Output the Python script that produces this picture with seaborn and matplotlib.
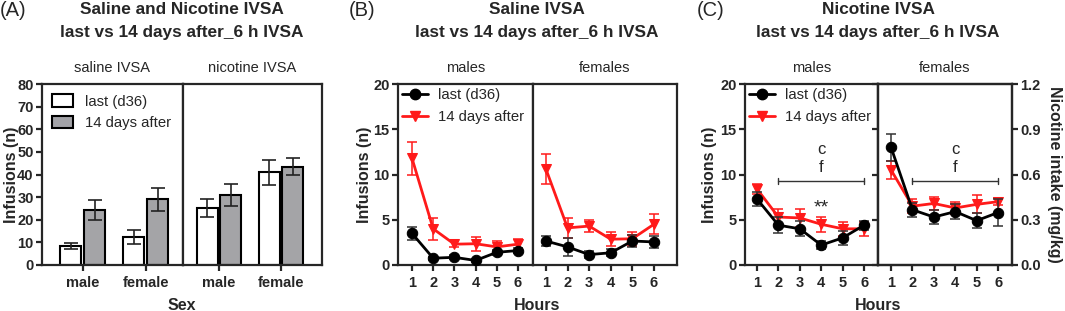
import numpy as np
import pandas as pd
import matplotlib
matplotlib.use("Agg")
import matplotlib.pyplot as plt
import seaborn as sns
from matplotlib.patches import Patch
from matplotlib.lines import Line2D

# ---------------- data ----------------
sexes = ["male", "female"]
conditions = ["last (d36)", "14 days after"]
groups_a = ["saline IVSA", "nicotine IVSA"]
a_saline_last = [8.3, 12.3]
a_saline_last_sem = [1.3, 3.2]
a_saline_14d = [24.4, 29.0]
a_saline_14d_sem = [4.3, 5.1]
a_nic_last = [25.3, 41.0]
a_nic_last_sem = [4.0, 5.5]
a_nic_14d = [31.0, 43.4]
a_nic_14d_sem = [4.8, 3.8]

hours = [1, 2, 3, 4, 5, 6]
# panel B (saline)
b_m_last = [3.5, 0.75, 0.85, 0.5, 1.4, 1.6]
b_m_last_sem = [0.7, 0.15, 0.2, 0.15, 0.3, 0.25]
b_m_14d = [11.8, 4.0, 2.3, 2.35, 2.0, 2.3]
b_m_14d_sem = [1.8, 1.2, 0.3, 0.75, 0.6, 0.6]
b_f_last = [2.65, 2.0, 1.15, 1.35, 2.65, 2.55]
b_f_last_sem = [0.55, 1.0, 0.35, 0.4, 0.7, 0.7]
b_f_14d = [10.6, 4.1, 4.3, 2.85, 2.9, 4.5]
b_f_14d_sem = [1.7, 1.1, 0.7, 0.75, 0.75, 1.1]
# panel C (nicotine)
c_m_last = [7.3, 4.4, 4.0, 2.2, 3.0, 4.4]
c_m_last_sem = [0.8, 0.85, 0.85, 0.4, 0.75, 0.5]
c_m_14d = [8.4, 5.3, 5.2, 4.5, 4.0, 4.0]
c_m_14d_sem = [0.6, 0.9, 0.95, 0.8, 0.75, 0.8]
c_f_last = [13.0, 6.1, 5.3, 5.9, 4.9, 5.8]
c_f_last_sem = [1.5, 0.8, 0.8, 0.85, 0.8, 1.5]
c_f_14d = [10.5, 6.5, 6.8, 6.3, 6.7, 7.0]
c_f_14d_sem = [1.0, 0.8, 0.7, 0.7, 1.0, 0.4]

# ---------------- style ----------------
sns.set_style("ticks")
plt.rcParams['font.family'] = ['Liberation Sans', 'DejaVu Sans']
plt.rcParams['axes.linewidth'] = 1.6
plt.rcParams['xtick.major.width'] = 1.6
plt.rcParams['ytick.major.width'] = 1.6
plt.rcParams['xtick.major.size'] = 4
plt.rcParams['ytick.major.size'] = 4

W, H = 1065, 311
fig = plt.figure(figsize=(W / 100, H / 100), dpi=100)

def add_ax(x0, x1, y0=84, y1=265):
    return fig.add_axes([x0 / W, 1 - y1 / H, (x1 - x0) / W, (y1 - y0) / H])

RED = "#ff1a1a"
GRAY = "#a3a3a8"
TICKFS = 10.5
LABFS = 11.5
SUBFS = 10.5
LEGFS = 10.7
TITFS = 12.4

def style_pair(axl, axr):
    for ax in (axl, axr):
        ax.tick_params(axis='both', labelsize=TICKFS, pad=2)
        ax.tick_params(axis='x', pad=4)
        for lab in ax.get_xticklabels() + ax.get_yticklabels():
            lab.set_fontweight('bold')
        ax.set_xlabel("")
        ax.set_ylabel("")
    axr.tick_params(axis='y', left=False, labelleft=False)

def ylab(ax, x_px, x0, x1):
    ax.set_ylabel("Infusions (n)", fontsize=LABFS, fontweight='bold')
    ax.yaxis.set_label_coords((x_px - x0) / (x1 - x0), 0.5)

# ---------------- panel A ----------------
axA1 = add_ax(42, 183)
axA2 = add_ax(183, 322)
rows = []
for g, lst, lsem, d14, d14sem in [
        (groups_a[0], a_saline_last, a_saline_last_sem, a_saline_14d, a_saline_14d_sem),
        (groups_a[1], a_nic_last, a_nic_last_sem, a_nic_14d, a_nic_14d_sem)]:
    for i, s in enumerate(sexes):
        rows.append(dict(group=g, sex=s, cond=conditions[0], val=lst[i], err=lsem[i]))
        rows.append(dict(group=g, sex=s, cond=conditions[1], val=d14[i], err=d14sem[i]))
dfA = pd.DataFrame(rows)

for ax, g in [(axA1, groups_a[0]), (axA2, groups_a[1])]:
    sub = dfA[dfA.group == g]
    sns.barplot(data=sub, x="sex", y="val", hue="cond", order=sexes,
                hue_order=conditions, palette=["white", GRAY], edgecolor="black",
                linewidth=1.5, width=0.76, gap=0.12, ax=ax, legend=False, errorbar=None)
    for bar in ax.patches:
        cx = bar.get_x() + bar.get_width() / 2
        h = bar.get_height()
        rr = sub[np.isclose(sub["val"], h)]
        if len(rr):
            ax.errorbar(cx, h, yerr=rr["err"].iloc[0], fmt='none', ecolor='#222222',
                        elinewidth=1.2, capsize=5, capthick=1.2, zorder=5)
    ax.set_ylim(0, 80)
    ax.set_yticks(np.arange(0, 81, 10))
    ax.set_title(g, fontsize=SUBFS, pad=9)
axA1.set_xlim(-0.65, 1.59)
axA2.set_xlim(-0.58, 1.66)
style_pair(axA1, axA2)
ylab(axA1, 19, 42, 183)
fig.text(182 / W, 1 - 305 / H, "Sex", ha='center', va='center', fontsize=LABFS, fontweight='bold')
axA1.legend(handles=[Patch(facecolor="white", edgecolor="black", linewidth=1.5, label=conditions[0]),
                     Patch(facecolor=GRAY, edgecolor="black", linewidth=1.5, label=conditions[1])],
            loc="upper left", frameon=False, fontsize=LEGFS, handlelength=1.4, handleheight=0.9,
            borderaxespad=0.3, labelspacing=0.5, handletextpad=0.8)

# ---------------- line panels ----------------
def line_pair(axl, axr, ml, mls, m14, m14s, fl, fls, f14, f14s):
    for ax, (l, ls, d, ds) in [(axl, (ml, mls, m14, m14s)), (axr, (fl, fls, f14, f14s))]:
        df = pd.DataFrame({"hour": hours * 2, "val": list(d) + list(l),
                           "cond": [conditions[1]] * 6 + [conditions[0]] * 6})
        ax.errorbar(hours, d, yerr=ds, fmt='none', ecolor=RED, elinewidth=1.1,
                    capsize=3.5, capthick=1.1, zorder=2)
        ax.errorbar(hours, l, yerr=ls, fmt='none', ecolor='#333333', elinewidth=1.1,
                    capsize=3.5, capthick=1.1, zorder=3)
        sns.lineplot(data=df[df.cond == conditions[1]], x="hour", y="val", color=RED,
                     marker="v", markersize=7.5, markeredgecolor=RED, linewidth=2.0,
                     ax=ax, legend=False, zorder=2.5)
        sns.lineplot(data=df[df.cond == conditions[0]], x="hour", y="val", color="black",
                     marker="o", markersize=7.5, markeredgecolor="black", linewidth=2.0,
                     ax=ax, legend=False, zorder=3.5)
        ax.set_ylim(0, 20)
        ax.set_yticks([0, 5, 10, 15, 20])
        ax.set_xticks(hours)
    axl.set_title("males", fontsize=SUBFS, pad=9)
    axr.set_title("females", fontsize=SUBFS, pad=9)
    style_pair(axl, axr)
    axl.legend(handles=[Line2D([], [], color='black', marker='o', markersize=7.5, linewidth=2.0, label=conditions[0]),
                        Line2D([], [], color=RED, marker='v', markersize=7.5, linewidth=2.0, label=conditions[1])],
               loc="upper left", frameon=False, fontsize=LEGFS, handlelength=1.7,
               borderaxespad=0.0, labelspacing=0.5, handletextpad=0.7, borderpad=0.3)

axB1 = add_ax(398, 533)
axB2 = add_ax(533, 677)
line_pair(axB1, axB2, b_m_last, b_m_last_sem, b_m_14d, b_m_14d_sem,
          b_f_last, b_f_last_sem, b_f_14d, b_f_14d_sem)
axB1.set_xlim(0.34, 6.71)
axB2.set_xlim(0.40, 7.07)
ylab(axB1, 372, 398, 533)
fig.text(537 / W, 1 - 305 / H, "Hours", ha='center', va='center', fontsize=LABFS, fontweight='bold')

axC1 = add_ax(745, 878)
axC2 = add_ax(878, 1012)
line_pair(axC1, axC2, c_m_last, c_m_last_sem, c_m_14d, c_m_14d_sem,
          c_f_last, c_f_last_sem, c_f_14d, c_f_14d_sem)
axC1.set_xlim(0.44, 6.65)
axC2.set_xlim(0.39, 6.65)
ylab(axC1, 717, 745, 878)
fig.text(878 / W, 1 - 305 / H, "Hours", ha='center', va='center', fontsize=LABFS, fontweight='bold')

axC2r = axC2.twinx()
axC2r.set_ylim(0, 1.2)
axC2r.set_yticks([0.0, 0.3, 0.6, 0.9, 1.2])
axC2r.set_yticklabels(["0.0", "0.3", "0.6", "0.9", "1.2"], fontweight='bold')
axC2r.tick_params(axis='y', labelsize=TICKFS, pad=2)
axC2r.set_ylabel("Nicotine intake (mg/kg)", rotation=270, fontsize=LABFS, fontweight='bold')
axC2r.yaxis.set_label_coords((1062 - 878) / (1012 - 878), 0.5)

for ax in (axC1, axC2):
    ax.plot([2, 6], [9.3, 9.3], color='#333333', linewidth=1.0)
    ax.plot([2, 2], [9.0, 9.6], color='#333333', linewidth=1.0)
    ax.plot([6, 6], [9.0, 9.6], color='#333333', linewidth=1.0)
    ax.text(4, 9.9, "f", ha='center', va='bottom', fontsize=12)
    ax.text(4, 11.9, "c", ha='center', va='bottom', fontsize=12)
axC1.text(4, 5.4, "**", ha='center', va='bottom', fontsize=14)

for cx, t1, lab, lx in [(182, "Saline and Nicotine IVSA", "(A)", 0),
                        (537, "Saline IVSA", "(B)", 349),
                        (878, "Nicotine IVSA", "(C)", 697)]:
    fig.text(cx / W, 1 - 10 / H, t1, ha='center', va='center', fontsize=TITFS, fontweight='bold')
    fig.text(cx / W, 1 - 32 / H, "last vs 14 days after_6 h IVSA", ha='center', va='center',
             fontsize=TITFS, fontweight='bold')
    fig.text(lx / W, 1 - 11 / H, lab, ha='left', va='center', fontsize=14.5)

fig.savefig("out.png", dpi=100)
